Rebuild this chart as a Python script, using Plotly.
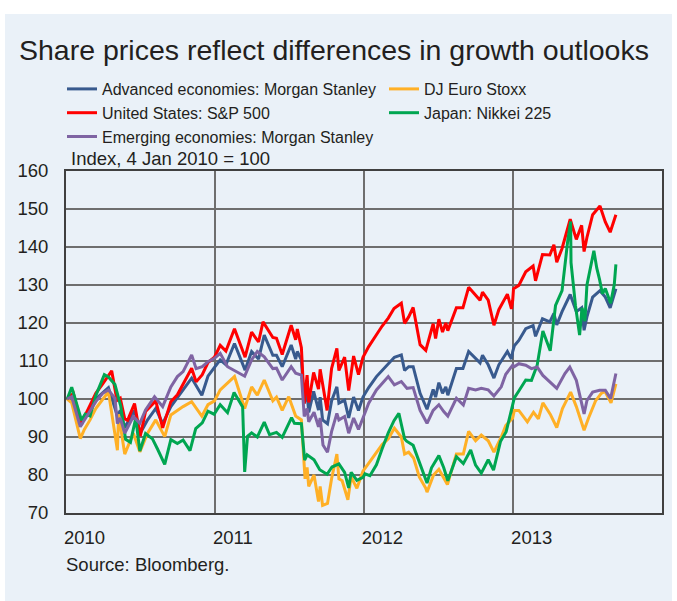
import plotly.graph_objects as go

# ---------------- data (index, 4 Jan 2010 = 100) ----------------
adv_dates = ["2010-01-04","2010-01-15","2010-02-05","2010-02-15","2010-03-01","2010-03-15","2010-04-15","2010-05-07","2010-05-14","2010-05-25","2010-06-18","2010-07-02","2010-07-20","2010-08-09","2010-08-26","2010-09-15","2010-10-15","2010-11-05","2010-11-30","2010-12-15","2010-12-31",
 "2011-01-14","2011-01-28","2011-02-18","2011-03-16","2011-04-01","2011-04-18","2011-05-02","2011-05-23","2011-06-01","2011-06-15","2011-07-07","2011-07-18","2011-07-22","2011-08-01","2011-08-08","2011-08-15","2011-08-19","2011-08-31","2011-09-12","2011-09-16","2011-09-22","2011-10-04","2011-10-14","2011-10-27","2011-11-01","2011-11-15","2011-11-25","2011-12-07","2011-12-19","2011-12-30",
 "2012-01-13","2012-02-01","2012-02-15","2012-03-01","2012-03-16","2012-04-02","2012-04-10","2012-04-20","2012-05-01","2012-05-18","2012-06-01","2012-06-04","2012-06-19","2012-06-25","2012-07-03","2012-07-12","2012-07-20","2012-07-25","2012-08-15","2012-08-31","2012-09-14","2012-10-01","2012-10-12","2012-10-18","2012-11-01","2012-11-15","2012-11-27","2012-12-18","2012-12-28","2012-12-31",
 "2013-01-04","2013-01-15","2013-02-01","2013-02-19","2013-02-25","2013-03-14","2013-04-01","2013-04-11","2013-04-18","2013-05-01","2013-05-21","2013-06-05","2013-06-18","2013-06-24","2013-07-01","2013-07-15","2013-08-02","2013-08-15","2013-08-27","2013-09-10"]
adv_values = [100,100.5,94.0,95.5,97.5,100.0,103.0,95.5,97.0,92.5,97.0,91.0,94.5,97.5,93.5,98.0,102.4,105.5,101.0,106.0,108.3,
 110.3,109.0,114.6,107.6,112.5,110.5,116.8,111.5,111.5,108.5,114.2,110.5,112.5,110.3,98.9,101.5,96.5,102.0,97.1,100.5,94.5,93.5,99.5,103.2,98.9,99.7,95.0,100.5,97.0,100.5,
 103.0,105.9,107.6,109.4,111.0,111.6,107.5,108.5,108.5,101.5,98.0,97.3,102.5,100.5,104.3,101.5,103.2,101.0,108.0,108.0,112.5,110.7,109.5,111.5,109.0,105.5,109.0,112.5,110.5,112.5,
 114.0,115.4,118.5,119.3,116.5,121.1,120.3,122.5,119.5,123.0,127.5,123.0,124.0,118.1,121.6,126.8,128.5,126.8,124.0,129.0]

euro_dates = ["2010-01-04","2010-01-15","2010-02-05","2010-02-15","2010-03-01","2010-03-15","2010-04-15","2010-05-07","2010-05-10","2010-05-25","2010-06-15","2010-07-01","2010-07-20","2010-08-09","2010-08-31","2010-09-15","2010-10-15","2010-11-05","2010-11-30","2010-12-15","2010-12-31",
 "2011-01-14","2011-02-18","2011-03-15","2011-04-01","2011-04-15","2011-05-02","2011-05-23","2011-06-01","2011-06-15","2011-07-01","2011-07-18","2011-08-01","2011-08-08","2011-08-10","2011-08-15","2011-08-19","2011-09-01","2011-09-12","2011-09-16","2011-09-22","2011-10-04","2011-10-14","2011-10-27","2011-11-01","2011-11-09","2011-11-23","2011-12-01","2011-12-15","2011-12-30",
 "2012-01-13","2012-02-01","2012-02-15","2012-03-01","2012-03-16","2012-04-02","2012-04-10","2012-04-20","2012-05-02","2012-05-16","2012-06-01","2012-06-04","2012-06-20","2012-07-03","2012-07-24","2012-08-15","2012-09-01","2012-09-14","2012-10-01","2012-10-15","2012-11-01","2012-11-15","2012-12-03","2012-12-14","2012-12-31",
 "2013-01-04","2013-01-15","2013-02-05","2013-02-20","2013-03-04","2013-03-15","2013-04-02","2013-04-18","2013-05-02","2013-05-22","2013-06-05","2013-06-24","2013-07-05","2013-07-22","2013-08-05","2013-08-14","2013-08-29","2013-09-10"]
euro_values = [100,99.0,89.6,92.0,94.5,97.5,101.9,86.5,96.0,85.5,91.0,86.1,91.0,94.5,90.1,95.8,98.0,99.3,95.5,98.5,99.5,
 102.4,105.9,97.5,103.2,101.0,105.0,99.5,100.5,97.0,100.6,95.5,94.5,83.0,79.0,82.0,77.0,80.0,73.0,77.0,72.0,72.5,79.0,85.5,79.0,78.5,73.5,79.5,76.5,81.0,
 83.0,85.7,88.0,89.5,92.3,90.0,85.5,86.0,84.5,79.5,76.5,75.5,80.0,81.5,77.5,85.5,85.5,91.5,89.0,90.5,89.0,86.0,90.0,93.0,95.0,
 97.0,97.0,94.0,96.5,94.8,99.0,96.0,92.5,97.5,101.8,98.0,91.8,95.0,99.5,101.5,102.0,99.0,104.0]

us_dates = ["2010-01-04","2010-01-19","2010-02-08","2010-02-16","2010-03-01","2010-03-15","2010-04-01","2010-04-23","2010-05-06","2010-05-14","2010-05-25","2010-06-01","2010-06-18","2010-07-02","2010-07-15","2010-08-09","2010-08-26","2010-09-15","2010-10-01","2010-10-15","2010-11-05","2010-11-16","2010-12-01","2010-12-15","2010-12-31",
 "2011-01-14","2011-01-28","2011-02-18","2011-03-16","2011-04-01","2011-04-18","2011-04-29","2011-05-23","2011-06-01","2011-06-15","2011-07-07","2011-07-18","2011-07-22","2011-08-01","2011-08-08","2011-08-15","2011-08-19","2011-08-31","2011-09-12","2011-09-16","2011-10-03","2011-10-14","2011-10-27","2011-11-01","2011-11-15","2011-11-25","2011-12-07","2011-12-19","2011-12-30",
 "2012-01-13","2012-02-01","2012-02-15","2012-03-01","2012-03-15","2012-04-02","2012-04-10","2012-04-20","2012-05-01","2012-05-18","2012-06-01","2012-06-19","2012-06-25","2012-07-03","2012-07-12","2012-07-20","2012-07-25","2012-08-15","2012-08-31","2012-09-14","2012-10-01","2012-10-12","2012-10-18","2012-11-01","2012-11-15","2012-11-27","2012-12-18","2012-12-28","2012-12-31",
 "2013-01-02","2013-01-15","2013-02-01","2013-02-19","2013-02-25","2013-03-14","2013-04-01","2013-04-11","2013-04-18","2013-05-01","2013-05-21","2013-06-05","2013-06-18","2013-06-24","2013-07-01","2013-07-15","2013-08-02","2013-08-15","2013-08-27","2013-09-10"]
us_values = [100,101.5,93.2,95.5,98.4,101.5,104.0,107.4,99.6,100.2,94.8,94.4,98.8,90.2,96.7,99.5,92.4,99.3,101.1,103.8,108.1,104.5,106.4,109.6,111.0,
 114.1,112.6,118.5,111.0,117.6,115.0,120.3,116.2,116.0,111.7,119.4,115.6,118.4,113.5,98.8,106.3,99.1,107.0,102.6,107.8,97.0,108.0,113.3,107.5,111.0,102.2,111.3,106.4,111.0,
 113.8,116.9,119.2,121.3,123.8,125.2,119.9,121.6,124.1,114.3,112.8,119.8,115.9,121.0,117.6,120.0,118.0,124.0,124.0,129.4,127.4,126.0,128.1,126.0,119.4,123.5,127.6,123.7,125.9,
 129.0,129.9,133.5,135.0,131.1,138.0,137.9,140.6,136.0,139.6,147.3,142.0,145.7,138.8,142.5,148.5,150.8,146.6,143.9,148.5]

jp_dates = ["2010-01-04","2010-01-15","2010-02-08","2010-02-17","2010-03-01","2010-03-15","2010-04-05","2010-04-15","2010-05-01","2010-05-15","2010-05-27","2010-06-08","2010-06-21","2010-07-01","2010-07-15","2010-08-01","2010-08-13","2010-08-31","2010-09-15","2010-10-01","2010-10-15","2010-11-01","2010-11-15","2010-12-01","2010-12-15","2010-12-30",
 "2011-01-14","2011-02-01","2011-02-17","2011-03-01","2011-03-10","2011-03-15","2011-03-22","2011-04-01","2011-04-15","2011-05-02","2011-05-15","2011-06-01","2011-06-15","2011-07-08","2011-07-15","2011-08-01","2011-08-09","2011-08-15","2011-09-01","2011-09-15","2011-10-03","2011-10-15","2011-11-01","2011-11-15","2011-11-25","2011-12-01","2011-12-15","2011-12-30",
 "2012-01-04","2012-01-16","2012-02-01","2012-02-15","2012-03-01","2012-03-15","2012-03-27","2012-04-10","2012-04-15","2012-05-01","2012-05-15","2012-06-04","2012-06-15","2012-07-03","2012-07-15","2012-07-25","2012-08-15","2012-09-01","2012-09-19","2012-10-01","2012-10-15","2012-11-01","2012-11-14","2012-12-01","2012-12-15","2012-12-28",
 "2013-01-04","2013-01-15","2013-02-01","2013-02-15","2013-03-01","2013-03-15","2013-04-02","2013-04-15","2013-05-01","2013-05-15","2013-05-22","2013-05-23","2013-06-03","2013-06-13","2013-06-19","2013-06-26","2013-07-01","2013-07-18","2013-07-25","2013-08-01","2013-08-08","2013-08-15","2013-08-28","2013-09-06","2013-09-10"]
jp_values = [100,103.1,94.4,96.0,95.5,100.9,106.4,105.8,103.8,98.2,89.4,88.6,95.0,86.3,90.9,89.5,86.9,82.8,89.3,88.3,89.2,86.4,92.2,93.7,96.8,96.0,
 98.5,96.4,101.7,99.7,97.9,80.8,90.2,91.1,90.0,93.9,90.6,91.2,89.9,95.1,93.6,93.5,83.9,85.3,84.0,81.4,80.2,82.1,82.9,80.7,76.6,80.7,78.6,79.4,
 80.3,79.8,82.7,86.9,91.1,94.3,96.2,89.5,88.9,87.8,83.5,77.9,81.9,85.1,81.9,78.5,84.8,83.0,86.6,82.6,80.5,84.0,81.3,88.8,91.4,97.6,
 100.3,102.1,105.0,104.9,108.9,117.9,112.7,124.6,128.5,141.7,146.7,135.9,124.5,116.8,124.0,120.5,130.0,139.0,134.5,131.4,127.7,129.1,125.2,130.1,135.4]

em_dates = ["2010-01-04","2010-01-15","2010-02-05","2010-02-15","2010-03-01","2010-03-15","2010-04-01","2010-04-15","2010-05-01","2010-05-07","2010-05-14","2010-05-25","2010-06-15","2010-07-01","2010-07-15","2010-08-06","2010-08-26","2010-09-15","2010-10-01","2010-10-15","2010-11-05","2010-11-16","2010-12-01","2010-12-15","2010-12-31",
 "2011-01-14","2011-02-01","2011-02-15","2011-03-01","2011-03-15","2011-04-01","2011-04-15","2011-05-02","2011-05-23","2011-06-01","2011-06-15","2011-07-07","2011-07-18","2011-08-01","2011-08-08","2011-08-15","2011-08-19","2011-09-01","2011-09-12","2011-09-16","2011-09-23","2011-10-04","2011-10-14","2011-10-27","2011-11-01","2011-11-15","2011-11-25","2011-12-07","2011-12-19","2011-12-30",
 "2012-01-13","2012-02-01","2012-02-15","2012-03-01","2012-03-16","2012-04-02","2012-04-16","2012-05-01","2012-05-18","2012-06-01","2012-06-04","2012-06-19","2012-07-03","2012-07-15","2012-07-25","2012-08-15","2012-09-01","2012-09-14","2012-10-01","2012-10-15","2012-11-01","2012-11-15","2012-12-03","2012-12-14","2012-12-31",
 "2013-01-04","2013-01-15","2013-02-01","2013-02-15","2013-03-01","2013-03-15","2013-04-01","2013-04-18","2013-05-08","2013-05-20","2013-06-05","2013-06-15","2013-06-24","2013-07-01","2013-07-15","2013-08-01","2013-08-15","2013-08-28","2013-09-10"]
em_values = [100,100.6,92.7,94.5,97.1,99.3,101.5,102.4,100.2,93.5,95.0,91.0,95.4,93.6,97.1,100.6,98.0,103.2,105.9,107.2,111.6,108.0,108.5,109.8,110.7,
 112.0,108.5,107.6,106.8,106.0,110.3,112.5,111.1,108.0,108.1,105.0,108.5,106.8,106.3,95.4,97.5,94.0,96.5,92.7,95.0,87.9,86.0,91.4,96.2,94.5,95.4,91.0,95.0,92.0,95.0,
 98.9,102.4,104.1,105.9,103.7,104.6,102.8,103.0,97.0,94.5,93.6,97.0,98.5,96.7,95.5,100.2,98.4,102.8,102.4,102.8,102.4,100.8,103.2,106.5,108.9,
 108.5,109.3,108.9,108.0,108.4,106.2,104.5,102.8,106.7,108.4,104.9,100.5,96.1,99.6,101.8,102.3,102.3,100.1,106.7]

series_names = ["Advanced economies: Morgan Stanley", "DJ Euro Stoxx", "United States: S&P 500",
                "Japan: Nikkei 225", "Emerging economies: Morgan Stanley"]
series_colors = ["#385A8E", "#FFB026", "#FF0000", "#00A651", "#7F64A3"]
series_dates = [adv_dates, euro_dates, us_dates, jp_dates, em_dates]
series_values = [adv_values, euro_values, us_values, jp_values, em_values]
series_legend = ["legend", "legend2", "legend", "legend2", "legend"]   # left / right legend column

year_ticks = ["2010-01-01", "2011-01-01", "2012-01-01", "2013-01-01"]
year_labels = ["2010", "2011", "2012", "2013"]
y_ticks = [70, 80, 90, 100, 110, 120, 130, 140, 150, 160]

# ---------------- figure ----------------
W, H = 677, 601
ML, MR, MT, MB = 66, 15, 171, 88
PW, PH = W - ML - MR, H - MT - MB
BG = "#EAF1F8"
TXT = "#231F20"
FONT = "Liberation Sans, Arial, sans-serif"

def px_x(px):
    return (px - ML) / PW

def px_y(py):
    return (H - MB - py) / PH

fig = go.Figure()
for name, col, d, v, lg in zip(series_names, series_colors, series_dates, series_values, series_legend):
    fig.add_trace(go.Scatter(x=d, y=v, mode="lines", name=name, legend=lg,
                             line=dict(color=col, width=3)))

legend_common = dict(orientation="v", xanchor="left", yanchor="top",
                     bgcolor="rgba(0,0,0,0)", font=dict(size=16, color=TXT),
                     itemwidth=30, traceorder="normal", tracegroupgap=0)

fig.update_layout(
    width=W, height=H,
    margin=dict(l=ML, r=MR, t=MT, b=MB, pad=0),
    paper_bgcolor="white",
    plot_bgcolor=BG,
    font=dict(family=FONT, size=18, color=TXT),
    showlegend=True,
    legend=dict(x=px_x(62), y=px_y(72), **legend_common),
    legend2=dict(x=px_x(384), y=px_y(72), **legend_common),
    xaxis=dict(type="date", range=["2010-01-01", "2014-01-01"],
               tickvals=year_ticks, ticktext=year_labels,
               ticklabelposition="outside right", ticklabelshift=-3, ticklabelstandoff=7,
               ticks="", showgrid=True, gridcolor="#6E6E6E", gridwidth=1.5,
               showline=True, linecolor="#404040", linewidth=2, mirror=True,
               zeroline=False, tickfont=dict(size=18.5, color=TXT)),
    yaxis=dict(range=[70, 160], tickvals=y_ticks,
               ticks="outside", ticklen=12, tickcolor="rgba(0,0,0,0)",
               showgrid=True, gridcolor="#6E6E6E", gridwidth=1.5,
               showline=True, linecolor="#404040", linewidth=2, mirror=True,
               zeroline=False, tickfont=dict(size=18.5, color=TXT)),
    shapes=[dict(type="rect", xref="paper", yref="paper", layer="below",
                 x0=px_x(5), x1=px_x(672), y0=px_y(601), y1=px_y(14),
                 fillcolor=BG, line=dict(width=0))],
    annotations=[
        dict(text="Share prices reflect differences in growth outlooks", xref="paper", yref="paper",
             x=px_x(17), y=px_y(50), xanchor="left", yanchor="middle", showarrow=False,
             font=dict(size=28.5, color=TXT)),
        dict(text="Index, 4 Jan 2010 = 100", xref="paper", yref="paper",
             x=px_x(69), y=px_y(159), xanchor="left", yanchor="middle", showarrow=False,
             font=dict(size=18.5, color=TXT)),
        dict(text="Source: Bloomberg.", xref="paper", yref="paper",
             x=px_x(64), y=px_y(564), xanchor="left", yanchor="middle", showarrow=False,
             font=dict(size=18.5, color=TXT)),
    ],
)

fig.write_html("out.html", config={"displayModeBar": False},
               post_script="document.body.style.margin='0px';")
